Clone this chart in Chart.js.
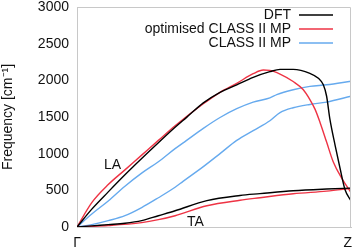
<!DOCTYPE html>
<html>
<head>
<meta charset="utf-8">
<script src="https://cdn.jsdelivr.net/npm/chart.js@4"></script>
<style>
  html, body { margin: 0; padding: 0; background: #fff; }
  #wrap { width: 353px; height: 248px; }
</style>
</head>
<body>
<div id="wrap"><canvas id="dispersao"></canvas></div>
<script>
// Dados (posição ao longo de Γ-Z, 0..1, e frequência em cm-1)
const xLabels = ['Γ', 'Z'];
const xLabelPos = [0, 1];
const yTicks = [0, 500, 1000, 1500, 2000, 2500, 3000];

const dftLA_x = [0, 0.054, 0.114, 0.175, 0.236, 0.297, 0.358, 0.400, 0.461, 0.522, 0.583, 0.643, 0.704, 0.741, 0.789, 0.850, 0.881, 0.899, 0.911, 0.923, 0.942, 0.960, 0.978, 1.0];
const dftLA_y = [0, 244, 479, 712, 934, 1149, 1359, 1495, 1693, 1837, 1939, 2041, 2118, 2149, 2149, 2095, 2028, 1939, 1783, 1470, 1114, 801, 511, 355];
const dftTA_x = [0, 0.054, 0.114, 0.175, 0.236, 0.297, 0.358, 0.474, 0.595, 0.668, 0.789, 0.911, 1.0];
const dftTA_y = [0, 16, 33, 51, 87, 154, 221, 360, 430, 455, 495, 518, 530];

const optLA_x = [0, 0.054, 0.114, 0.175, 0.236, 0.297, 0.358, 0.461, 0.522, 0.583, 0.643, 0.680, 0.704, 0.741, 0.789, 0.826, 0.850, 0.869, 0.887, 0.911, 0.935, 0.966, 1.0];
const optLA_y = [0, 332, 578, 779, 980, 1181, 1381, 1680, 1837, 1960, 2090, 2140, 2135, 2086, 1984, 1872, 1738, 1604, 1426, 1158, 890, 667, 470];
const optTA_x = [0, 0.114, 0.236, 0.297, 0.358, 0.474, 0.595, 0.668, 0.789, 0.911, 1.0];
const optTA_y = [0, 20, 60, 100, 154, 290, 365, 399, 453, 489, 525];

const c2Up_x = [0, 0.054, 0.114, 0.175, 0.236, 0.297, 0.358, 0.400, 0.461, 0.522, 0.583, 0.643, 0.704, 0.729, 0.789, 0.850, 0.911, 1.0];
const c2Up_y = [0, 177, 355, 556, 734, 890, 1068, 1181, 1345, 1493, 1613, 1703, 1760, 1805, 1872, 1917, 1939, 1988];
const c2Low_x = [0, 0.054, 0.114, 0.175, 0.236, 0.297, 0.358, 0.387, 0.461, 0.522, 0.583, 0.643, 0.704, 0.741, 0.789, 0.850, 0.911, 1.0];
const c2Low_y = [0, 33, 87, 154, 265, 399, 542, 622, 823, 1001, 1181, 1315, 1449, 1560, 1626, 1671, 1703, 1783];

function pts(xs, ys) {
    return xs.map((x, i) => ({ x: x, y: ys[i] }));
}

const fonte = 'Liberation Sans, Arial, sans-serif';

function serie(label, xs, ys, cor) {
    return {
        label: label,
        data: pts(xs, ys),
        borderColor: cor,
        backgroundColor: cor,
        borderWidth: 1.4,
        pointRadius: 0,
        cubicInterpolationMode: 'monotone',
        fill: false
    };
}

// Legenda desenhada à mão: texto alinhado à direita, amostra da linha depois
const legendaDireita = {
    id: 'legendaDireita',
    afterDraw(chart) {
        const ctx = chart.ctx;
        const vistos = [];
        chart.data.datasets.forEach(ds => {
            if (!vistos.find(v => v.label === ds.label)) vistos.push(ds);
        });
        ctx.save();
        ctx.font = '14px ' + fonte;
        ctx.textAlign = 'right';
        ctx.textBaseline = 'middle';
        vistos.forEach((ds, i) => {
            const y = 15 + i * 14;
            ctx.fillStyle = '#111';
            ctx.fillText(ds.label, 291, y);
            ctx.strokeStyle = ds.borderColor;
            ctx.lineWidth = 1.4;
            ctx.beginPath();
            ctx.moveTo(299, y);
            ctx.lineTo(333, y);
            ctx.stroke();
        });
        // rótulos LA / TA
        ctx.textAlign = 'center';
        ctx.fillStyle = '#111';
        ctx.fillText('LA', chart.scales.x.getPixelForValue(0.130), chart.scales.y.getPixelForValue(837));
        ctx.fillText('TA', chart.scales.x.getPixelForValue(0.432), chart.scales.y.getPixelForValue(70));

        // rótulos Γ e Z do eixo x (Z encostado na borda, como no original)
        ctx.textBaseline = 'top';
        xLabels.forEach((txt, i) => {
            let px = chart.scales.x.getPixelForValue(xLabelPos[i]);
            const meia = ctx.measureText(txt).width / 2;
            px = Math.min(px, chart.width - meia - 1);
            ctx.fillText(txt, px, chart.chartArea.bottom + 9);
        });
        ctx.restore();
    }
};

new Chart(document.getElementById('dispersao'), {
    type: 'line',
    data: {
        datasets: [
            serie('DFT', dftLA_x, dftLA_y, '#000000'),
            serie('DFT', dftTA_x, dftTA_y, '#000000'),
            serie('optimised CLASS II MP', optLA_x, optLA_y, '#ee3344'),
            serie('optimised CLASS II MP', optTA_x, optTA_y, '#ee3344'),
            serie('CLASS II MP', c2Up_x, c2Up_y, '#66aaee'),
            serie('CLASS II MP', c2Low_x, c2Low_y, '#66aaee')
        ]
    },
    options: {
        responsive: true,
        maintainAspectRatio: false,
        animation: false,
        layout: { padding: { top: 7, right: 2, left: 0, bottom: 0 } },
        plugins: {
            legend: { display: false },
            tooltip: { enabled: false }
        },
        scales: {
            x: {
                type: 'linear',
                min: 0,
                max: 1,
                afterBuildTicks: axis => { axis.ticks = xLabelPos.map(v => ({ value: v })); },
                afterFit: axis => {
                    axis.height = 21;
                    axis.paddingLeft = 0;
                    axis.paddingRight = 0;
                },
                grid: { display: false, drawTicks: false },
                border: { color: '#c8c8c8' },
                ticks: { display: false }
            },
            y: {
                min: 0,
                max: 3000,
                afterBuildTicks: axis => { axis.ticks = yTicks.map(v => ({ value: v })); },
                afterFit: axis => {
                    axis.width = 77;
                    axis.paddingTop = 0;
                    axis.paddingBottom = 0;
                },
                grid: { display: false, drawTicks: false },
                border: { color: '#c8c8c8' },
                ticks: {
                    color: '#111',
                    font: { family: fonte, size: 14 },
                    padding: 8,
                    callback: v => String(v)
                },
                title: {
                    display: true,
                    text: 'Frequency [cm⁻¹]',
                    color: '#111',
                    font: { family: fonte, size: 14 },
                    padding: { top: 0, bottom: 0 }
                }
            }
        }
    },
    plugins: [legendaDireita, {
        id: 'moldura',
        afterDraw(chart) {
            const a = chart.chartArea, ctx = chart.ctx;
            ctx.save();
            ctx.strokeStyle = '#c8c8c8';
            ctx.lineWidth = 1;
            ctx.beginPath();
            ctx.moveTo(a.left, a.top + 0.5);
            ctx.lineTo(a.right - 0.5, a.top + 0.5);
            ctx.lineTo(a.right - 0.5, a.bottom);
            ctx.stroke();
            ctx.restore();
        }
    }]
});
</script>
</body>
</html>
